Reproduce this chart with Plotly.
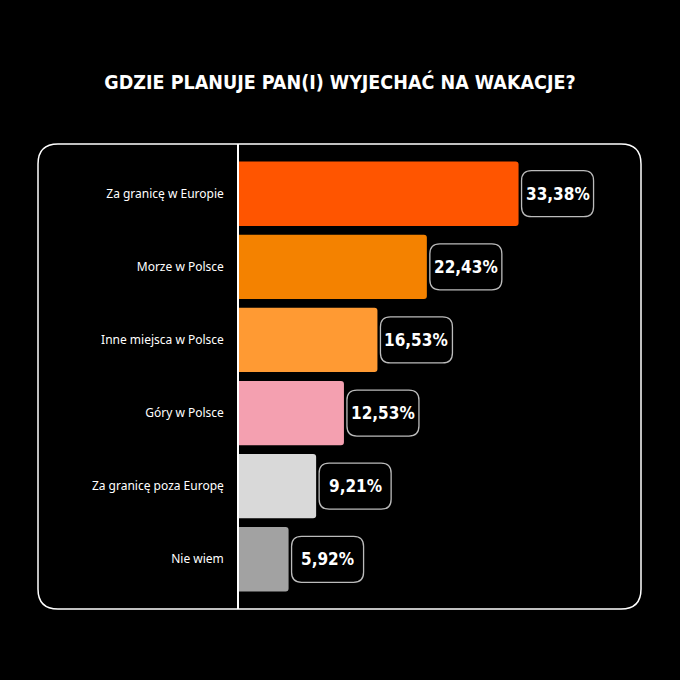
import plotly.graph_objects as go

categories = ["Za granicę w Europie", "Morze w Polsce", "Inne miejsca w Polsce",
              "Góry w Polsce", "Za granicę poza Europę", "Nie wiem"]
values = [33.38, 22.43, 16.53, 12.53, 9.21, 5.92]
value_labels = ["33,38%", "22,43%", "16,53%", "12,53%", "9,21%", "5,92%"]
colors = ["#FF5500", "#F48200", "#FF9A33", "#F4A0B0", "#D9D9D9", "#A2A2A2"]
title_text = "GDZIE PLANUJE PAN(I) WYJECHAĆ NA WAKACJE?"

COND = "DejaVu Sans Condensed, Liberation Sans Narrow, Arial Narrow, sans-serif"

fig = go.Figure()
fig.add_trace(go.Bar(
    y=categories, x=values, orientation="h",
    marker=dict(color=colors, line=dict(width=0), cornerradius=3),
    hoverinfo="skip", showlegend=False,
))

shapes = []
annotations = []

# frame around the chart (rounded rect), pixel-sized anchored at plot area
r = 20
x0, x1, ya = -201, 402, 232.5
frame_path = (f"M {x0+r},{-ya} L {x1-r},{-ya} Q {x1},{-ya} {x1},{-ya+r} "
              f"L {x1},{ya-r} Q {x1},{ya} {x1-r},{ya} L {x0+r},{ya} "
              f"Q {x0},{ya} {x0},{ya-r} L {x0},{-ya+r} Q {x0},{-ya} {x0+r},{-ya} Z")
shapes.append(dict(type="path", xref="paper", yref="paper", xsizemode="pixel", ysizemode="pixel",
                   xanchor=0, yanchor=0.5, path=frame_path,
                   line=dict(color="white", width=1.5), layer="below"))

# value label boxes
bx0, bx1, bh, br = 3, 75, 23, 10
box_path = (f"M {bx0+br},{-bh} L {bx1-br},{-bh} Q {bx1},{-bh} {bx1},{-bh+br} "
            f"L {bx1},{bh-br} Q {bx1},{bh} {bx1-br},{bh} L {bx0+br},{bh} "
            f"Q {bx0},{bh} {bx0},{bh-br} L {bx0},{-bh+br} Q {bx0},{-bh} {bx0+br},{-bh} Z")
for cat, v, lab in zip(categories, values, value_labels):
    shapes.append(dict(type="path", xref="x", yref="y", xsizemode="pixel", ysizemode="pixel",
                       xanchor=v, yanchor=cat, path=box_path,
                       fillcolor="black", line=dict(color="#BBBBBB", width=1.3)))
    annotations.append(dict(x=v, y=cat, xref="x", yref="y", text=lab, showarrow=False,
                            xanchor="center", yanchor="middle", xshift=(bx0+bx1)/2, yshift=0,
                            font=dict(family=COND, size=17, color="white", weight="bold")))

fig.update_layout(
    width=680, height=680,
    paper_bgcolor="black", plot_bgcolor="black",
    margin=dict(l=239, r=39, t=144, b=71),
    bargap=0.12,
    title=dict(text=title_text, x=0.5, xref="container", xanchor="center",
               y=1-82/680, yref="container", yanchor="middle",
               font=dict(family=COND, size=19.5, color="white", weight="bold")),
    shapes=shapes, annotations=annotations,
    xaxis=dict(range=[0, 48.0], visible=False, fixedrange=True),
    yaxis=dict(type="category", categoryorder="array", categoryarray=categories,
               range=[5.68, -0.68], showgrid=False, zeroline=False, fixedrange=True,
               showline=True, linecolor="white", linewidth=1.5,
               ticks="outside", ticklen=11, tickcolor="rgba(0,0,0,0)",
               tickfont=dict(family="Noto Sans, Lato, sans-serif", size=12, color="white")),
)
fig.write_html("out.html", config={"displayModeBar": False},
               post_script="document.body.style.margin='0';document.body.style.overflow='hidden';")
